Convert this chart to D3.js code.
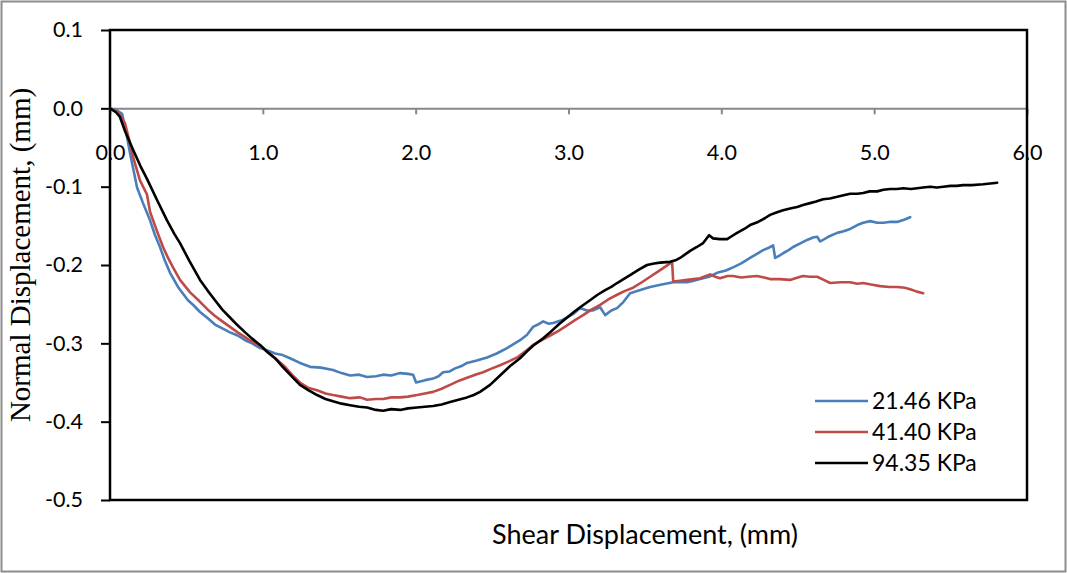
<!DOCTYPE html>
<html>
<head>
<meta charset="utf-8">
<script src="https://cdn.jsdelivr.net/npm/d3@7"></script>
<style>
  html, body { margin: 0; padding: 0; background: #fff; }
  svg { display: block; }
</style>
</head>
<body>
<svg id="chart" width="1067" height="573"></svg>
<script>
// Normal vs. shear displacement curves for three normal stresses
const seriesNames = ["21.46 KPa", "41.40 KPa", "94.35 KPa"];
const seriesColors = ["#4a7ebb", "#be4b48", "#000000"];

const xTickValues = [0, 1, 2, 3, 4, 5, 6];
const yTickValues = [0.1, 0.0, -0.1, -0.2, -0.3, -0.4, -0.5];

// [shear displacement (mm), normal displacement (mm)]
const s21 = [
  [0,0],[0.039,-0.002],[0.079,-0.007],[0.105,-0.030],[0.131,-0.057],[0.155,-0.080],[0.177,-0.101],
  [0.216,-0.121],[0.262,-0.143],[0.295,-0.162],[0.327,-0.177],[0.360,-0.195],[0.393,-0.210],
  [0.445,-0.228],[0.510,-0.245],[0.550,-0.252],[0.589,-0.260],[0.640,-0.268],[0.687,-0.276],
  [0.735,-0.281],[0.785,-0.286],[0.835,-0.290],[0.884,-0.296],[0.930,-0.300],[0.982,-0.306],
  [1.030,-0.309],[1.080,-0.313],[1.130,-0.315],[1.178,-0.319],[1.243,-0.325],[1.309,-0.330],
  [1.380,-0.331],[1.459,-0.334],[1.515,-0.338],[1.571,-0.341],[1.630,-0.340],[1.682,-0.343],
  [1.740,-0.342],[1.787,-0.340],[1.840,-0.341],[1.898,-0.338],[1.950,-0.339],[1.983,-0.340],
  [2.003,-0.350],[2.062,-0.347],[2.114,-0.345],[2.150,-0.342],[2.179,-0.337],[2.220,-0.336],
  [2.258,-0.332],[2.300,-0.329],[2.336,-0.325],[2.400,-0.322],[2.467,-0.318],[2.530,-0.313],
  [2.598,-0.306],[2.640,-0.301],[2.683,-0.296],[2.729,-0.289],[2.768,-0.279],[2.800,-0.276],
  [2.834,-0.272],[2.870,-0.275],[2.899,-0.274],[2.950,-0.271],[2.991,-0.267],[3.035,-0.262],
  [3.076,-0.255],[3.120,-0.258],[3.161,-0.258],[3.207,-0.254],[3.240,-0.264],[3.280,-0.258],
  [3.318,-0.255],[3.360,-0.247],[3.403,-0.236],[3.470,-0.232],[3.534,-0.228],[3.610,-0.225],
  [3.685,-0.222],[3.776,-0.222],[3.820,-0.220],[3.861,-0.218],[3.920,-0.215],[3.972,-0.210],
  [4.030,-0.207],[4.077,-0.203],[4.130,-0.198],[4.188,-0.191],[4.230,-0.186],[4.274,-0.181],
  [4.310,-0.178],[4.339,-0.175],[4.352,-0.191],[4.380,-0.188],[4.404,-0.185],[4.440,-0.181],
  [4.470,-0.177],[4.520,-0.172],[4.561,-0.168],[4.600,-0.165],[4.627,-0.164],[4.647,-0.170],
  [4.700,-0.164],[4.758,-0.159],[4.800,-0.157],[4.843,-0.154],[4.890,-0.149],[4.928,-0.146],
  [4.974,-0.144],[5.020,-0.146],[5.059,-0.146],[5.100,-0.145],[5.151,-0.145],[5.200,-0.142],
  [5.236,-0.139]
];

const s41 = [
  [0,0],[0.052,-0.005],[0.098,-0.019],[0.125,-0.040],[0.151,-0.062],[0.196,-0.092],[0.242,-0.110],
  [0.262,-0.132],[0.308,-0.157],[0.347,-0.177],[0.380,-0.191],[0.412,-0.203],[0.458,-0.219],
  [0.524,-0.235],[0.589,-0.247],[0.640,-0.257],[0.687,-0.265],[0.735,-0.272],[0.785,-0.279],
  [0.835,-0.286],[0.884,-0.292],[0.930,-0.298],[0.982,-0.303],[1.030,-0.311],[1.080,-0.319],
  [1.145,-0.330],[1.195,-0.341],[1.243,-0.350],[1.300,-0.357],[1.355,-0.360],[1.410,-0.364],
  [1.459,-0.366],[1.515,-0.368],[1.571,-0.370],[1.636,-0.369],[1.682,-0.372],[1.740,-0.371],
  [1.787,-0.371],[1.840,-0.369],[1.898,-0.369],[1.950,-0.368],[2.009,-0.366],[2.060,-0.364],
  [2.114,-0.362],[2.170,-0.358],[2.225,-0.353],[2.280,-0.348],[2.336,-0.344],[2.390,-0.340],
  [2.441,-0.337],[2.500,-0.332],[2.552,-0.328],[2.610,-0.323],[2.664,-0.318],[2.720,-0.310],
  [2.768,-0.302],[2.825,-0.296],[2.880,-0.290],[2.935,-0.284],[2.991,-0.277],[3.045,-0.270],
  [3.096,-0.264],[3.150,-0.257],[3.207,-0.251],[3.260,-0.244],[3.318,-0.238],[3.370,-0.233],
  [3.423,-0.229],[3.480,-0.222],[3.534,-0.215],[3.580,-0.209],[3.619,-0.204],[3.665,-0.198],
  [3.678,-0.196],[3.685,-0.221],[3.730,-0.220],[3.776,-0.219],[3.820,-0.218],[3.861,-0.217],
  [3.927,-0.212],[3.960,-0.215],[3.992,-0.217],[4.040,-0.214],[4.077,-0.214],[4.130,-0.216],
  [4.175,-0.215],[4.234,-0.214],[4.280,-0.216],[4.319,-0.218],[4.380,-0.218],[4.450,-0.219],
  [4.500,-0.216],[4.535,-0.214],[4.580,-0.215],[4.627,-0.215],[4.670,-0.219],[4.712,-0.223],
  [4.780,-0.222],[4.843,-0.222],[4.890,-0.224],[4.928,-0.223],[4.980,-0.225],[5.039,-0.227],
  [5.100,-0.228],[5.151,-0.228],[5.200,-0.229],[5.236,-0.231],[5.280,-0.234],[5.321,-0.236]
];

const s94 = [
  [0,0],[0.039,-0.005],[0.065,-0.011],[0.100,-0.030],[0.151,-0.053],[0.200,-0.074],[0.242,-0.090],
  [0.310,-0.118],[0.373,-0.143],[0.420,-0.160],[0.458,-0.172],[0.520,-0.195],[0.589,-0.219],
  [0.640,-0.233],[0.687,-0.245],[0.735,-0.257],[0.785,-0.267],[0.835,-0.277],[0.884,-0.286],
  [0.930,-0.294],[0.982,-0.302],[1.030,-0.311],[1.080,-0.319],[1.130,-0.330],[1.178,-0.340],
  [1.243,-0.353],[1.300,-0.360],[1.355,-0.366],[1.410,-0.371],[1.459,-0.374],[1.515,-0.377],
  [1.571,-0.379],[1.630,-0.381],[1.682,-0.382],[1.740,-0.385],[1.787,-0.386],[1.840,-0.384],
  [1.898,-0.385],[1.950,-0.383],[2.009,-0.382],[2.060,-0.381],[2.114,-0.380],[2.170,-0.378],
  [2.225,-0.375],[2.280,-0.372],[2.336,-0.369],[2.380,-0.366],[2.421,-0.362],[2.487,-0.353],
  [2.552,-0.341],[2.618,-0.329],[2.683,-0.319],[2.730,-0.310],[2.768,-0.303],[2.825,-0.295],
  [2.880,-0.286],[2.935,-0.276],[2.991,-0.267],[3.035,-0.260],[3.076,-0.254],[3.141,-0.245],
  [3.190,-0.238],[3.240,-0.232],[3.280,-0.228],[3.318,-0.223],[3.360,-0.218],[3.403,-0.213],
  [3.460,-0.206],[3.514,-0.200],[3.560,-0.198],[3.599,-0.197],[3.665,-0.196],[3.700,-0.194],
  [3.730,-0.191],[3.796,-0.182],[3.840,-0.177],[3.881,-0.172],[3.920,-0.162],[3.946,-0.166],
  [3.990,-0.167],[4.038,-0.167],[4.070,-0.163],[4.103,-0.159],[4.150,-0.154],[4.188,-0.149],
  [4.240,-0.145],[4.287,-0.140],[4.319,-0.136],[4.360,-0.133],[4.404,-0.130],[4.450,-0.128],
  [4.496,-0.126],[4.540,-0.123],[4.581,-0.121],[4.620,-0.119],[4.666,-0.116],[4.710,-0.115],
  [4.758,-0.113],[4.800,-0.111],[4.843,-0.109],[4.890,-0.109],[4.928,-0.108],[4.970,-0.106],
  [5.020,-0.106],[5.060,-0.104],[5.105,-0.103],[5.150,-0.103],[5.190,-0.102],[5.240,-0.103],
  [5.281,-0.102],[5.320,-0.101],[5.366,-0.100],[5.410,-0.101],[5.452,-0.100],[5.500,-0.099],
  [5.540,-0.099],[5.582,-0.098],[5.640,-0.098],[5.713,-0.097],[5.760,-0.096],[5.805,-0.095]
];

const seriesData = [s21, s41, s94];

const svg = d3.select("#chart");
const W = 1067, H = 573;
const plot = { left: 110, right: 1027, top: 30, bottom: 500 };

// outer frame
svg.append("rect")
  .attr("x", 1.5).attr("y", 1.5)
  .attr("width", W - 3).attr("height", H - 3)
  .attr("fill", "#fff").attr("stroke", "#8c8c8c").attr("stroke-width", 2);

const x = d3.scaleLinear().domain([0, 6]).range([plot.left, plot.right]);
const y = d3.scaleLinear().domain([-0.5, 0.1]).range([plot.bottom, plot.top]);

const tickFont = "Lato, 'Open Sans', sans-serif";
const fmt = d => d.toFixed(1);

// horizontal axis through y = 0 (grey)
const xAxis = svg.append("g")
  .attr("transform", `translate(0,${y(0)})`)
  .call(d3.axisBottom(x).tickValues(xTickValues).tickFormat(fmt).tickSize(6).tickPadding(30).tickSizeOuter(0));
xAxis.select(".domain").attr("stroke", "#878787").attr("stroke-width", 2);
xAxis.selectAll(".tick line").attr("stroke", "#878787").attr("stroke-width", 2);
xAxis.selectAll(".tick text")
  .attr("fill", "#000").style("font-family", tickFont).style("font-size", "21.5px");

// vertical axis ticks
const yAxis = svg.append("g")
  .attr("transform", `translate(${plot.left},0)`)
  .call(d3.axisLeft(y).tickValues(yTickValues).tickFormat(fmt).tickSize(9).tickPadding(18).tickSizeOuter(0));
yAxis.select(".domain").remove();
yAxis.selectAll(".tick line").attr("stroke", "#000").attr("stroke-width", 2);
yAxis.selectAll(".tick text")
  .attr("fill", "#000").style("font-family", tickFont).style("font-size", "21.5px");

// plot frame
svg.append("rect")
  .attr("x", plot.left).attr("y", plot.top)
  .attr("width", plot.right - plot.left).attr("height", plot.bottom - plot.top)
  .attr("fill", "none").attr("stroke", "#000").attr("stroke-width", 2.5);

// curves
const line = d3.line().x(d => x(d[0])).y(d => y(d[1]));
seriesData.forEach((data, i) => {
  svg.append("path")
    .datum(data)
    .attr("d", line)
    .attr("fill", "none")
    .attr("stroke", seriesColors[i])
    .attr("stroke-width", 2.6)
    .attr("stroke-linejoin", "round")
    .attr("stroke-linecap", "round");
});

// legend
const legend = svg.append("g");
seriesNames.forEach((name, i) => {
  const ly = 401 + i * 31;
  legend.append("line")
    .attr("x1", 815).attr("x2", 868).attr("y1", ly).attr("y2", ly)
    .attr("stroke", seriesColors[i]).attr("stroke-width", 2.6);
  legend.append("text")
    .attr("x", 872).attr("y", ly).attr("dy", "0.36em")
    .style("font-family", tickFont).style("font-size", "23px")
    .text(name);
});

// axis titles
svg.append("text")
  .attr("x", 645).attr("y", 544)
  .attr("text-anchor", "middle")
  .style("font-family", tickFont).style("font-size", "27px")
  .text("Shear Displacement, (mm)");

svg.append("text")
  .attr("transform", "translate(30,255) rotate(-90)")
  .attr("text-anchor", "middle")
  .style("font-family", "'Liberation Serif', 'Times New Roman', serif")
  .style("font-size", "29px")
  .text("Normal Displacement, (mm)");
</script>
</body>
</html>
